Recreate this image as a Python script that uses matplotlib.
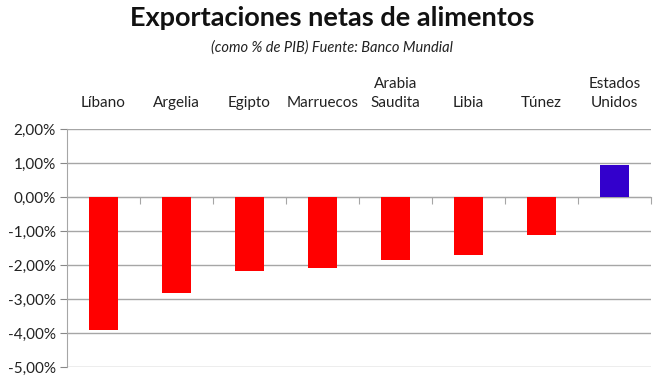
import numpy as np
import matplotlib.pyplot as plt
from matplotlib.ticker import FuncFormatter

paises = ['Líbano', 'Argelia', 'Egipto', 'Marruecos', 'Arabia\nSaudita',
          'Libia', 'Túnez', 'Estados\nUnidos']
exportaciones = [-3.90, -2.83, -2.18, -2.10, -1.86, -1.72, -1.11, 0.93]
colores = ['#FF0000'] * 7 + ['#3300CC']
yticks = [2, 1, 0, -1, -2, -3, -4, -5]

plt.rcParams['font.family'] = ['Lato', 'DejaVu Sans']

fig = plt.figure(figsize=(6.64, 3.79), dpi=100)
ax = fig.add_axes([67 / 664, 1 - 367 / 379, (651 - 67) / 664, (367 - 129) / 379])

x = np.arange(len(paises))
ax.bar(x, exportaciones, width=0.41, color=colores, zorder=3)

ax.set_xlim(-0.5, len(paises) - 0.5)
ax.set_ylim(-5, 2)
ax.set_yticks(yticks)
ax.yaxis.set_major_formatter(FuncFormatter(lambda v, p: f'{v:.2f}%'.replace('.', ',')))
ax.tick_params(axis='y', length=5, color='#888888', labelsize=11, labelcolor='#222222', pad=3)
ax.grid(axis='y', color='#a6a6a6', linewidth=1, zorder=0)

# eje x sobre el cero, marcas entre categorias
ax.spines['bottom'].set_position(('data', 0))
ax.spines['bottom'].set_color('#a6a6a6')
ax.spines['left'].set_color('#a6a6a6')
ax.spines['top'].set_visible(False)
ax.spines['right'].set_visible(False)
ax.set_xticks(x + 0.5)
ax.set_xticklabels([])
ax.tick_params(axis='x', length=5, color='#a6a6a6', direction='out')

for i, nombre in enumerate(paises):
    ax.text(i, 1.08, nombre, transform=ax.get_xaxis_transform(), ha='center',
            va='bottom', fontsize=11, color='#222222', linespacing=1.45)

fig.text(0.5, 0.952, 'Exportaciones netas de alimentos', ha='center', va='center',
         fontsize=19.5, fontweight='bold', color='#111111')
fig.text(0.5, 0.875, '(como % de PIB) Fuente: Banco Mundial', ha='center', va='center',
         fontsize=10.5, style='italic', color='#222222')

fig.savefig('out.png', dpi=100)
